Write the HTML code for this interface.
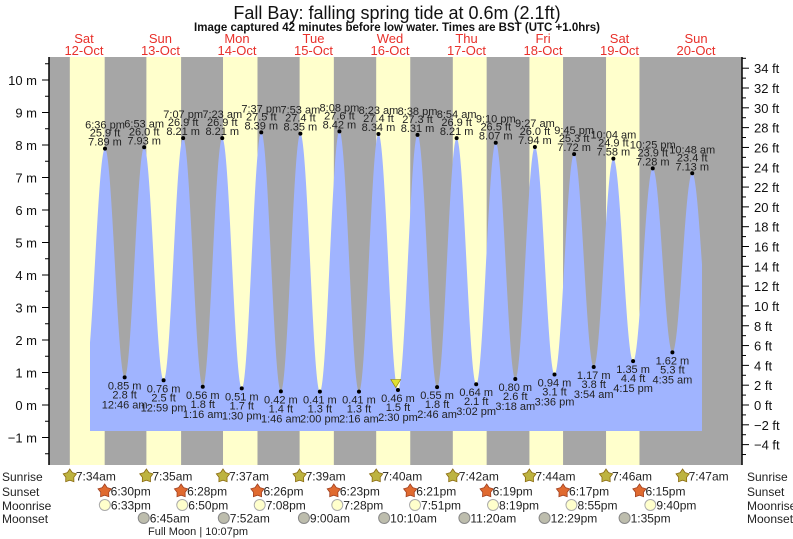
<!DOCTYPE html>
<html><head><meta charset="utf-8"><style>
body{margin:0;background:#fff}
svg{display:block;font-family:"Liberation Sans",sans-serif}
</style></head><body>
<svg id="c" width="793" height="539" viewBox="0 0 793 539">
<text x="397" y="19" text-anchor="middle" font-size="18" fill="#111">Fall Bay: falling  spring tide at 0.6m (2.1ft)</text>
<text x="397" y="31" text-anchor="middle" font-size="11.5" font-weight="bold" fill="#111">Image captured 42 minutes before low water. Times are BST (UTC +1.0hrs)</text>
<g id="bands"></g><g id="tide"></g><g id="axes"></g><g id="labels"></g><g id="bottom"></g>
</svg>
<script>
const dayNames=["Sat","Sun","Mon","Tue","Wed","Thu","Fri","Sat","Sun"];
const dayDates=["12-Oct","13-Oct","14-Oct","15-Oct","16-Oct","17-Oct","18-Oct","19-Oct","20-Oct"];
const sunrise=["7:34am","7:35am","7:37am","7:39am","7:40am","7:42am","7:44am","7:46am","7:47am"];
const sunset=["6:30pm","6:28pm","6:26pm","6:23pm","6:21pm","6:19pm","6:17pm","6:15pm"];
const moonrise=["6:33pm","6:50pm","7:08pm","7:28pm","7:51pm","8:19pm","8:55pm","9:40pm"];
const moonset=[null,"6:45am","7:52am","9:00am","10:10am","11:20am","12:29pm","1:35pm"];
const highDay=[0,1,1,2,2,3,3,4,4,5,5,6,6,7,7,8];
const highTime=["6:36 pm","6:53 am","7:07 pm","7:23 am","7:37 pm","7:53 am","8:08 pm","8:23 am","8:38 pm","8:54 am","9:10 pm","9:27 am","9:45 pm","10:04 am","10:25 pm","10:48 am"];
const highM=[7.89,7.93,8.21,8.21,8.39,8.35,8.42,8.34,8.31,8.21,8.07,7.94,7.72,7.58,7.28,7.13];
const highFt=[25.9,26.0,26.9,26.9,27.5,27.4,27.6,27.4,27.3,26.9,26.5,26.0,25.3,24.9,23.9,23.4];
const lowDay=[1,1,2,2,3,3,4,4,5,5,6,6,7,7,8];
const lowTime=["12:46 am","12:59 pm","1:16 am","1:30 pm","1:46 am","2:00 pm","2:16 am","2:30 pm","2:46 am","3:02 pm","3:18 am","3:36 pm","3:54 am","4:15 pm","4:35 am"];
const lowM=[0.85,0.76,0.56,0.51,0.42,0.41,0.41,0.46,0.55,0.64,0.80,0.94,1.17,1.35,1.62];
const lowFt=[2.8,2.5,1.8,1.7,1.4,1.3,1.3,1.5,1.8,2.1,2.6,3.1,3.8,4.4,5.3];
const mTicks=[-1,0,1,2,3,4,5,6,7,8,9,10];
const ftTicks=[-4,-2,0,2,4,6,8,10,12,14,16,18,20,22,24,26,28,30,32,34];
const nowDay=4, nowTime="1:48 pm", nowM=0.6;

const NS="http://www.w3.org/2000/svg";
const X0=49,X1=742,Y0=57,Y1=465;
const M0=45.7,HR=3.188;
function tx(d,h){return M0+(d*24+h)*HR;}
function ym(m){return 405-m*32.5;}
function yft(f){return ym(f*0.3048);}
function ph(s){const m=s.match(/(\d+):(\d+)\s*(am|pm)/);let h=+m[1]%12;if(m[3]=="pm")h+=12;return h+ (+m[2])/60;}
function el(t,a,p,txt){const e=document.createElementNS(NS,t);for(const k in a)e.setAttribute(k,a[k]);if(txt!=null)e.textContent=txt;p.appendChild(e);return e;}
const bands=document.getElementById('bands'),tide=document.getElementById('tide'),axes=document.getElementById('axes'),labels=document.getElementById('labels'),bottom=document.getElementById('bottom');

let r=el('rect',{x:X0,y:Y0,width:X1-X0,height:Y1-Y0,fill:'#a6a6a6'},bands);


for(let d=0;d<8;d++){
  const a=tx(d,ph(sunrise[d])),b=tx(d,ph(sunset[d]));
  const b2=el('rect',{x:a,y:Y0,width:b-a,height:Y1-Y0,fill:'#ffffcc'},bands);
  
  
}
for(let d=0;d<9;d++){
  const t1=el('text',{x:tx(d,12),y:43,'text-anchor':'middle','font-size':13,fill:'#e8302a'},labels,dayNames[d]);
  
  
  const t2=el('text',{x:tx(d,12),y:55,'text-anchor':'middle','font-size':13,fill:'#e8302a'},labels,dayDates[d]);
  
  
}
// extremes
let ex=[{t:tx(0,12.33),m:0.9}];
for(let i=0;i<highM.length;i++)ex.push({t:tx(highDay[i],ph(highTime[i])),m:highM[i],hi:1,i});
for(let i=0;i<lowM.length;i++)ex.push({t:tx(lowDay[i],ph(lowTime[i])),m:lowM[i],i});
ex.push({t:tx(8,16.9),m:1.55});
ex.sort((a,b)=>a.t-b.t);
function hAt(x){for(let k=0;k<ex.length-1;k++){const a=ex[k],b=ex[k+1];if(x>=a.t&&x<=b.t){const f=(1-Math.cos(Math.PI*(x-a.t)/(b.t-a.t)))/2;return a.m+(b.m-a.m)*f;}}return 0;}
const xs=90,xe=702;let pts=[[xs,ym(-0.8)]];
for(let x=xs;x<=xe;x+=0.5)pts.push([x,ym(hAt(x))]);
pts.push([xe,ym(-0.8)]);
const poly=el('polygon',{points:pts.map(p=>p[0].toFixed(1)+','+p[1].toFixed(1)).join(' '),fill:'#a0b4ff'},tide);


for(let i=0;i<highM.length;i++){
  const x=tx(highDay[i],ph(highTime[i])),y=ym(highM[i]);
  const c=el('circle',{cx:x,cy:y,r:2,fill:'#000'},tide);
  
  
  const g=el('g',{'font-size':11,fill:'#222','text-anchor':'middle'},labels);
  
  
  el('text',{x:x,y:y-20},g,highTime[i]);
  el('text',{x:x,y:y-12},g,highFt[i].toFixed(1)+' ft');
  el('text',{x:x,y:y-3},g,highM[i].toFixed(2)+' m');
}
for(let i=0;i<lowM.length;i++){
  const x=tx(lowDay[i],ph(lowTime[i])),y=ym(lowM[i]);
  const c=el('circle',{cx:x,cy:y,r:2,fill:'#000'},tide);
  
  
  const g=el('g',{'font-size':11,fill:'#222','text-anchor':'middle'},labels);
  
  
  el('text',{x:x,y:y+12},g,lowM[i].toFixed(2)+' m');
  el('text',{x:x,y:y+21},g,lowFt[i].toFixed(1)+' ft');
  el('text',{x:x,y:y+31},g,lowTime[i]);
}
{const x=tx(nowDay,ph(nowTime)),y=ym(nowM);
 const t=el('polygon',{points:`${x-5},${y-6} ${x+5},${y-6} ${x},${y+2}`,fill:'#e0e030',stroke:'#887700','stroke-width':0.6},tide);
 
 }
// axes
el('line',{x1:X0,y1:Y0,x2:X0,y2:Y1,stroke:'#000','stroke-width':1.5},axes);
el('line',{x1:X1,y1:Y0,x2:X1,y2:Y1,stroke:'#000','stroke-width':1.5},axes);
for(let v=-1.5;v<=10.5;v+=0.5){const y=ym(v);el('line',{x1:X0-(Number.isInteger(v)?7:4),y1:y,x2:X0,y2:y,stroke:'#000'},axes);}
mTicks.forEach(v=>{const t=el('text',{x:37,y:ym(v)+5,'text-anchor':'end','font-size':13,fill:'#111'},axes,(v<0?'\u2212'+(-v):v)+' m');
 
 });
for(let f=-5;f<=35;f++){const y=yft(f);if(y<Y0||y>Y1)continue;el('line',{x1:X1,y1:y,x2:X1+(f%2==0?7:4),y2:y,stroke:'#000'},axes);}
ftTicks.forEach(v=>{const t=el('text',{x:754,y:yft(v)+5,'font-size':13,fill:'#111'},axes,(v<0?'\u2212'+(-v):v)+' ft');
 
 });
// bottom rows
const rows=[["Sunrise",476],["Sunset",491],["Moonrise",505],["Moonset",518]];
rows.forEach(([n,y])=>{
 const a=el('text',{x:2,y:y+5,'font-size':12,fill:'#222'},bottom,n);
 
 
 const b=el('text',{x:747,y:y+5,'font-size':12,fill:'#222'},bottom,n);
 
 
});
function star(x,y,rad,fill,stroke,n){let p=[];for(let k=0;k<10;k++){const rr=k%2?rad*0.6:rad;const a=-Math.PI/2+k*Math.PI/5;p.push((x+rr*Math.cos(a)).toFixed(1)+','+(y+rr*Math.sin(a)).toFixed(1));}
 const s=el('polygon',{points:p.join(' '),fill:fill,stroke:stroke,'stroke-width':0.8},bottom);return s;}
function evt(x,y,txt,kind){
 let s;
 if(kind=='sr'){s=star(x,y,7,'#bdb340','#8a6a10');}
 else if(kind=='ss'){s=star(x,y,7,'#e06a30','#a04020');}
 else if(kind=='mr'){s=el('circle',{cx:x,cy:y,r:5.5,fill:'#ffffcc',stroke:'#aaa'},bottom);}
 else {s=el('circle',{cx:x,cy:y,r:5.5,fill:'#bdbdad',stroke:'#888'},bottom);}
 
 const t=el('text',{x:x+6,y:y+4.5,'font-size':12,fill:'#222'},bottom,txt);
 
 
}
sunrise.forEach((s,d)=>evt(tx(d,ph(s)),476,s,'sr'));
sunset.forEach((s,d)=>evt(tx(d,ph(s)),491,s,'ss'));
moonrise.forEach((s,d)=>evt(tx(d,ph(s)),505,s,'mr'));
moonset.forEach((s,d)=>{if(s)evt(tx(d,ph(s)),518,s,'ms');});
const fm=el('text',{x:148,y:535,'font-size':11,fill:'#222'},bottom,'Full Moon | 10:07pm');


</script>
</body></html>
